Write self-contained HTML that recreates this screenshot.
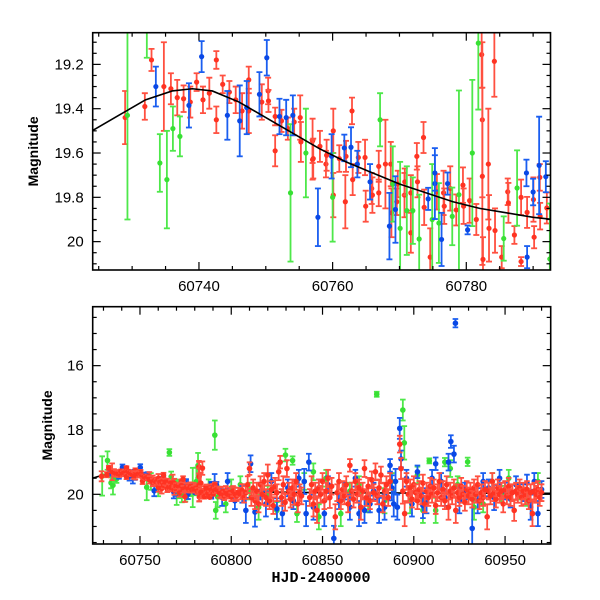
<!DOCTYPE html>
<html><head><meta charset="utf-8">
<style>
html,body{margin:0;padding:0;background:#fff;}
svg{display:block;font-family:"Liberation Sans",Arial,sans-serif;}
</style></head>
<body>
<svg id="chart" width="600" height="600" viewBox="0 0 600 600" xmlns="http://www.w3.org/2000/svg">
<defs>
<clipPath id="clipTop"><rect x="92.7" y="32.7" width="457.8" height="237.3"/></clipPath>
<clipPath id="clipBot"><rect x="92.7" y="306.7" width="458" height="237.3"/></clipPath>
</defs>
<g id="top-panel"></g>
<g id="bot-panel"></g>
</svg>
<script>
// ---- data: red series ----
const redT=[60728.95,60731.9,60732.9,60734.75,60735.8,60736.75,60737.7,60738.7,60739.65,60740.6,60741.55,60742.6,60742.6,60743.55,60744.55,60745.5,60746.45,60747.45,60747.45,60749.4,60750.35,60750.4,60751.4,60751.4,60752.35,60753.3,60754.25,60755.15,60755.25,60757,60757,
60757.1,60758.1,60759,60759.1,60760.1,60760.1,60761,60761.9,60762,60762.9,60763,60763.85,60764.85,60764.95,60765.85,60765.95,60766.9,60766.9,60767.9,60768.7,60768.8,60769.6,60769.75,60770.75,60770.8,60771.7,60771.7,60772.6,60772.7,60773.6,60773.7,60774.6,60775.6,60776.6,60776.7,60777.6,60778.5,60779.5,60779.6,60780.5,60781.5,60782.3,60782.4,60782.4,60782.5,60783.3,60783.4,60784.2,60784.3,60785.3,60786.2,60786.3,60787.2,60788.2,60788.2,60789.1,60790.05,60790.15,60791,60791.05,60792.05,
60793.5,60794.5,60795.3,60796.2,60797,60798,60799,60800,60801,60802,60803,60804,60805,60806,60807,60808,60809,60810,60811,60812,60813,60814,60815,60816,60817,60818,60819,60820,60821,60822,60823,60824,60825,60826,60826.8,60827.5,60828.5,60829.5,60830.5,60831.5,60832.5,60833.5,60834.5,60835.5,60836.5,60837.5,60838.5,
60843,60844,60845,60846,60847,60848,60849,60850,60851,60852,60853,60854,60855,60857,60858,60859,60860,60861,60862,60863,60864,60865,60866,60867,60868,60869,60870,60871,60872,60873,60874,60875,60876,60877,60878,60879,60880,60881,60882,60883,60884,60885,60886,60887,
60892.3,60893,60894,60895,60896,60897,60898,60899,60900,60901,60902,60903,60904,60905,60906,60907,60908,60909,60910,60911,60912,60913,60914,60915,60916,60917,60918,60919,60920,60921,60922,60923,60924,60925,60926,60927,60928,60929,60930,60931,60932,60933,60934,60935,60936,60937,60938,60939,60940.2,60941,60942,60943,60944,60945,60946,60947,60948,60949,60950,60951,60952,60953,60954,60955,60956,60957,60958,60959,60960,60961,60962,60963,60964,60965,60966,60967,60968,60969,60970];
const redM=[19.44,19.39,19.18,19.3,19.31,19.35,19.355,19.37,19.28,19.36,19.33,19.45,19.18,19.29,19.325,19.36,19.41,19.27,19.41,19.37,19.32,19.365,19.435,19.59,19.455,19.49,19.46,19.44,19.55,19.545,19.63,
19.625,19.57,19.65,19.61,19.5,19.79,19.625,19.82,19.615,19.41,19.72,19.62,19.62,19.84,19.76,19.79,19.66,19.78,19.65,19.65,19.87,19.82,19.74,19.79,19.73,19.78,19.96,19.615,19.73,19.53,19.845,20.07,19.775,19.78,19.84,19.76,19.857,19.745,19.84,19.815,19.9,19.156,19.45,19.705,20.08,19.65,19.94,19.186,19.95,20.07,19.775,19.825,19.97,19.8,20.09,19.868,19.81,19.98,19.71,19.885,19.848,
19.95,20.0,19.92,20.05,19.9,20.0,19.95,20.08,19.9,19.98,20.05,19.93,20.0,19.88,20.1,19.95,19.7,19.2,20.1,19.8,20.2,19.9,20.3,19.7,20.0,19.6,20.1,19.4,20.2,19.85,20.35,19.75,19.95,19.3,19.0,20.1,19.7,20.25,19.2,19.9,20.15,19.8,20.0,19.6,20.3,19.95,20.05,
20.1,19.7,20.3,19.9,20.5,19.8,20.0,19.6,20.2,19.9,19.5,20.1,19.75,20.7,19.95,19.6,20.2,19.85,20.05,19.7,20.3,19.1,19.9,20.15,19.6,20.0,19.8,20.4,19.9,19.2,20.1,19.75,20.2,19.55,19.95,19.3,20.05,19.8,19.4,20.3,19.9,19.7,20.1,19.6,
18.44,19.2,19.9,20.6,19.6,20.0,19.8,20.15,19.7,19.95,20.2,19.85,20.05,19.65,20.3,19.9,20.1,19.75,20.0,19.8,20.35,19.95,19.6,20.1,19.85,20.2,19.7,20.4,19.9,20.05,19.8,20.5,19.95,20.1,19.75,20.0,20.25,19.85,20.05,19.9,20.15,19.8,20.0,19.7,20.2,19.95,20.1,19.85,20.7,19.9,20.05,19.6,19.95,20.15,19.8,20.0,19.9,20.3,19.85,20.05,19.75,20.1,19.95,20.5,19.9,20.0,19.8,20.1,19.9,20.05,19.85,20.2,19.95,20.6,19.9,20.0,19.85,20.1,19.95];
const redE=[0.12,0.06,0.05,0.2,0.07,0.08,0.06,0.07,0.04,0.06,0.07,0.06,0.04,0.04,0.05,0.06,0.08,0.06,0.1,0.08,0.06,0.05,0.04,0.07,0.05,0.05,0.06,0.1,0.09,0.1,0.09,
0.09,0.07,0.06,0.07,0.1,0.1,0.06,0.12,0.07,0.06,0.07,0.07,0.08,0.07,0.07,0.08,0.07,0.06,0.2,0.1,0.11,0.06,0.06,0.1,0.06,0.08,0.09,0.06,0.07,0.07,0.08,0.13,0.08,0.1,0.08,0.1,0.07,0.08,0.08,0.1,0.07,0.15,0.35,0.4,0.1,0.25,0.15,0.16,0.1,0.05,0.06,0.09,0.04,0.08,0.02,0.07,0.1,0.05,0.06,0.06,0.07,
0.12,0.1,0.12,0.1,0.12,0.1,0.12,0.1,0.12,0.15,0.12,0.1,0.12,0.15,0.12,0.15,0.2,0.15,0.2,0.2,0.2,0.2,0.2,0.2,0.25,0.2,0.2,0.25,0.2,0.2,0.2,0.2,0.2,0.2,0.15,0.2,0.2,0.2,0.2,0.2,0.2,0.2,0.25,0.2,0.2,0.2,0.2,
0.2,0.2,0.3,0.2,0.3,0.2,0.2,0.2,0.2,0.2,0.2,0.25,0.2,0.3,0.2,0.2,0.2,0.2,0.2,0.2,0.2,0.15,0.2,0.2,0.2,0.2,0.2,0.3,0.2,0.2,0.2,0.2,0.2,0.2,0.2,0.2,0.2,0.2,0.2,0.2,0.2,0.2,0.2,0.2,
0.2,0.25,0.3,0.3,0.2,0.2,0.2,0.2,0.2,0.2,0.2,0.2,0.2,0.2,0.2,0.2,0.2,0.2,0.2,0.2,0.2,0.2,0.2,0.2,0.2,0.2,0.2,0.3,0.2,0.2,0.2,0.3,0.2,0.2,0.2,0.2,0.2,0.2,0.2,0.2,0.2,0.2,0.2,0.2,0.2,0.2,0.2,0.2,0.3,0.2,0.2,0.2,0.2,0.2,0.2,0.2,0.2,0.2,0.2,0.2,0.2,0.2,0.2,0.25,0.2,0.2,0.2,0.2,0.2,0.2,0.2,0.2,0.2,0.3,0.2,0.2,0.2,0.2,0.2];
// ---- data: blue series ----
const blueT=[60733.55,60738.5,60740.4,60744.25,60746.1,60747.15,60749.05,60750.15,60752.05,60753.05,60754.05,60757.8,60759.85,60761.75,60762.75,60763.7,60765.6,60768.5,60769.4,60774.3,60775.3,60775.3,60776.3,60777.2,60780.2,60789,60789.1,60790,60790.9,60791.9,
60795,60798,60802,60806,60808,60810.6,60813,60816,60819,60822,60825,60828,60831,60834,60837,60840,60841,60842.5,60845,60848,60851,60853,60856.2,60859,60862,60865,60868,60870,60873,60876,60878,60881,60884,60887,60888,60889,60890,60891,60892.3,60893,60896,60899,60902,60905,60907,60910,60912,60915,60917,60919,60920.3,60922,60922.8,60925,60928,60932,60935,60938,60941,60944,60947,60950,60953,60956,60960,60962,60964,60966,60968,60970];
const blueM=[19.3,19.385,19.165,19.43,19.455,19.395,19.335,19.17,19.435,19.44,19.43,19.89,19.615,19.577,19.574,19.65,19.73,19.93,19.855,19.807,19.738,19.69,19.99,19.738,19.947,19.69,20.07,19.776,19.656,19.707,
20.1,19.6,20.2,20.0,20.5,19.05,20.55,19.9,20.3,19.6,20.45,20.6,19.8,20.2,19.5,19.6,20.6,19.0,20.4,19.8,20.6,19.7,21.37,20.2,19.9,20.4,19.5,20.6,20.5,20.3,19.9,20.5,20.4,19.1,19.8,20.3,19.6,20.4,17.95,18.9,19.5,20.3,19.3,20.35,20.2,19.5,19.05,19.6,20.1,19.0,18.36,18.75,14.68,20.2,19.9,21.06,20.2,19.6,19.8,20.1,19.5,19.9,20.15,19.7,19.95,19.65,20.4,19.6,20.6,19.85];
const blueE=[0.09,0.1,0.07,0.11,0.16,0.12,0.1,0.08,0.08,0.08,0.09,0.13,0.1,0.06,0.09,0.06,0.08,0.15,0.15,0.05,0.16,0.08,0.12,0.05,0.02,0.06,0.05,0.06,0.22,0.07,
0.2,0.2,0.2,0.2,0.3,0.2,0.35,0.2,0.3,0.2,0.25,0.3,0.2,0.2,0.2,0.3,0.3,0.2,0.3,0.2,0.3,0.2,0.3,0.2,0.2,0.3,0.2,0.3,0.3,0.2,0.2,0.3,0.3,0.15,0.3,0.3,0.3,0.3,0.25,0.2,0.2,0.3,0.15,0.3,0.3,0.2,0.15,0.2,0.2,0.2,0.15,0.2,0.1,0.3,0.2,0.5,0.3,0.2,0.2,0.3,0.2,0.2,0.2,0.2,0.2,0.2,0.3,0.2,0.3,0.2];
// ---- data: green series ----
const greenT=[60729.3,60732.2,60734.15,60735.2,60736.1,60737.15,60753.7,60756,60760,60766.1,60767.1,60769,60770.1,60771.1,60772,60772.95,60774.9,60775.9,60777.9,60778.9,60780.9,60781.8,60785.6,60787.6,60792.5,
60791,60791.5,60797,60800,60805,60810,60815,60820,60825,60829.7,60833.6,60836,60840,60845,60848,60852,60860,60865,60870,60875,60879.7,60884,60888,60894,60894.8,60898,60902,60905,60908.5,60912,60917,60920,60924,60929.5,60933,60938,60943,60948,60952,60957,60962,60968];
const greenM=[19.43,18.95,19.645,19.72,19.49,19.525,19.78,19.6,19.8,18.7,19.45,19.74,19.94,19.86,19.86,19.988,19.9,19.916,19.886,19.788,19.6,19.104,19.986,19.758,20.078,
18.16,20.5,20.3,19.8,19.7,19.9,20.4,20.0,20.5,18.78,18.95,20.6,19.6,19.3,20.7,19.5,20.6,19.9,19.7,20.3,16.89,20.2,19.6,17.38,18.4,20.2,19.4,20.5,18.96,20.5,19.0,19.2,19.7,18.99,20.4,20.3,19.6,20.0,19.5,19.9,20.1,19.6];
const greenE=[0.47,0.22,0.13,0.22,0.1,0.09,0.31,0.2,0.2,0.08,0.12,0.17,0.3,0.2,0.15,0.2,0.25,0.18,0.13,0.47,0.33,0.3,0.1,0.17,0.25,
0.35,0.2,0.2,0.2,0.2,0.2,0.3,0.2,0.2,0.15,0.1,0.2,0.2,0.2,0.3,0.2,0.3,0.2,0.2,0.2,0.06,0.3,0.2,0.25,0.4,0.3,0.2,0.3,0.06,0.3,0.1,0.2,0.2,0.1,0.3,0.2,0.2,0.2,0.2,0.2,0.2,0.2];
// ---- model curve ----
const modelT=[60720,60724,60728,60732,60736,60739,60742,60746,60750,60754,60758,60762,60766,60770,60774,60778,60782,60786,60790,60793,60800,60820,60850,60900,60975];
const modelM=[19.58,19.5,19.43,19.36,19.32,19.31,19.32,19.37,19.44,19.51,19.58,19.64,19.69,19.74,19.78,19.82,19.85,19.87,19.89,19.9,19.91,19.93,19.95,19.96,19.97];
// ---- tick labels ----
const topXTicks=[60740,60760,60780];
const topYTicks=[19.2,19.4,19.6,19.8,20];
const botXTicks=[60750,60800,60850,60900,60950];
const botYTicks=[16,18,20];

const NS="http://www.w3.org/2000/svg";
function mk(tag,attrs,parent){const e=document.createElementNS(NS,tag);for(const k in attrs)e.setAttribute(k,attrs[k]);parent.appendChild(e);return e;}
const COLORS={red:{bar:"#ff5040",dot:"#ff3322"},blue:{bar:"#1a5ef0",dot:"#0a48e6"},green:{bar:"#4ee84a",dot:"#38e034"}};

function panel(g,cfg){
  const sx=t=>cfg.x0+(t-cfg.t0)*(cfg.x1-cfg.x0)/(cfg.t1-cfg.t0);
  const sy=m=>cfg.y0+(m-cfg.m0)*(cfg.y1-cfg.y0)/(cfg.m1-cfg.m0);
  const data=mk("g",{"clip-path":"url(#"+cfg.clip+")"},g);
  
  
  function drawModel(){
    let d="";
    for(let i=0;i<modelT.length;i++){d+=(i?"L":"M")+sx(modelT[i]).toFixed(2)+","+sy(modelM[i]).toFixed(2);}
    const pth=mk("path",{d:d,fill:"none",stroke:"#000","stroke-width":1.6},data);
    
    
  }
  if(cfg.modelUnder)drawModel();
  const series=[["green",greenT,greenM,greenE],["blue",blueT,blueM,blueE],["red",redT,redM,redE]];
  const order=cfg.interleave?[["red",redT,redM,redE],["green",greenT,greenM,greenE],["blue",blueT,blueM,blueE]]:series;
  for(const [name,T,M,E] of order){
    const sg=mk("g",{},data);
    
    
    for(let i=0;i<T.length;i++){
      const x=sx(T[i]),ya=sy(M[i]-E[i]*cfg.ef),yb=sy(M[i]+E[i]*cfg.ef),y=sy(M[i]);
      const c=COLORS[name];
      const p=mk("g",{},sg);
      
      
      mk("line",{x1:x,y1:ya,x2:x,y2:yb,stroke:c.bar,"stroke-width":cfg.bw},p);
      mk("line",{x1:x-cfg.cap,y1:ya,x2:x+cfg.cap,y2:ya,stroke:c.bar,"stroke-width":cfg.bw},p);
      mk("line",{x1:x-cfg.cap,y1:yb,x2:x+cfg.cap,y2:yb,stroke:c.bar,"stroke-width":cfg.bw},p);
      mk("circle",{cx:x,cy:y,r:cfg.r,fill:c.dot},p);
    }
  }
  if(!cfg.modelUnder)drawModel();
  const tg=mk("g",{stroke:"#000","stroke-width":1.2},g);
  
  
  for(let t=cfg.xMinorStart;t<=cfg.t1;t+=cfg.xMinor){
    const x=sx(t);if(x<cfg.x0+1||x>cfg.x1-1)continue;
    const major=Math.abs(((t-cfg.xMajorBase)%cfg.xMajor))<1e-6;
    const L=major?8:4;
    mk("line",{x1:x,y1:cfg.y1,x2:x,y2:cfg.y1-L},tg);
    mk("line",{x1:x,y1:cfg.y0,x2:x,y2:cfg.y0+L},tg);
  }
  for(let k=0;k<400;k++){
    const m=cfg.yMinorStart+k*cfg.yMinor;if(m>cfg.m1)break;
    const y=sy(m);if(y<cfg.y0+1||y>cfg.y1-1)continue;
    const major=Math.abs(m/cfg.yMajor-Math.round(m/cfg.yMajor))<1e-6;
    const L=major?8:4;
    mk("line",{x1:cfg.x0,y1:y,x2:cfg.x0+L,y2:y},tg);
    mk("line",{x1:cfg.x1,y1:y,x2:cfg.x1-L,y2:y},tg);
  }
  const fr=mk("rect",{x:cfg.x0,y:cfg.y0,width:cfg.x1-cfg.x0,height:cfg.y1-cfg.y0,fill:"none",stroke:"#000","stroke-width":1.6},g);
  
  
  for(const t of cfg.xTicks){
    const tx=mk("text",{x:sx(t),y:cfg.y1+21,"text-anchor":"middle","font-size":15,fill:"#000"},g);
    tx.textContent=String(t);
    
    
  }
  for(const m of cfg.yTicks){
    const tx=mk("text",{x:cfg.x0-9,y:sy(m)+5,"text-anchor":"end","font-size":15,fill:"#000"},g);
    tx.textContent=String(m);
    
    
  }
  const yl=mk("text",{x:cfg.ylx,y:(cfg.y0+cfg.y1)/2,"text-anchor":"middle","font-size":14,"font-weight":"bold",fill:"#000",transform:"rotate(-90 "+cfg.ylx+" "+((cfg.y0+cfg.y1)/2)+")"},g);
  yl.textContent="Magnitude";
  
  
}

panel(document.getElementById("top-panel"),{x0:92.7,x1:550.5,t0:60724.1,t1:60792.6,y0:32.7,y1:270,m0:19.057,m1:20.128,
  clip:"clipTop",bw:1.8,cap:3,r:2.6,ef:1,modelUnder:false,interleave:true,
  xMinorStart:60725,xMinor:5,xMajor:20,xMajorBase:60740,yMinorStart:19.05,yMinor:0.05,yMajor:0.2,
  xTicks:topXTicks,yTicks:topYTicks,ylx:38});
panel(document.getElementById("bot-panel"),{x0:92.7,x1:550.7,t0:60724.1,t1:60975.0,y0:306.7,y1:544,m0:14.167,m1:21.545,
  clip:"clipBot",bw:1.8,cap:2.8,r:2.8,ef:1.3,modelUnder:true,interleave:false,
  xMinorStart:60730,xMinor:10,xMajor:50,xMajorBase:60750,yMinorStart:14.5,yMinor:0.5,yMajor:2,
  xTicks:botXTicks,yTicks:botYTicks,ylx:52});
const xl=mk("text",{x:321,y:582,"text-anchor":"middle","font-size":15,"font-weight":"bold","font-family":"Liberation Mono, monospace",fill:"#000"},document.getElementById("chart"));
xl.textContent="HJD-2400000";


</script>
</body></html>
